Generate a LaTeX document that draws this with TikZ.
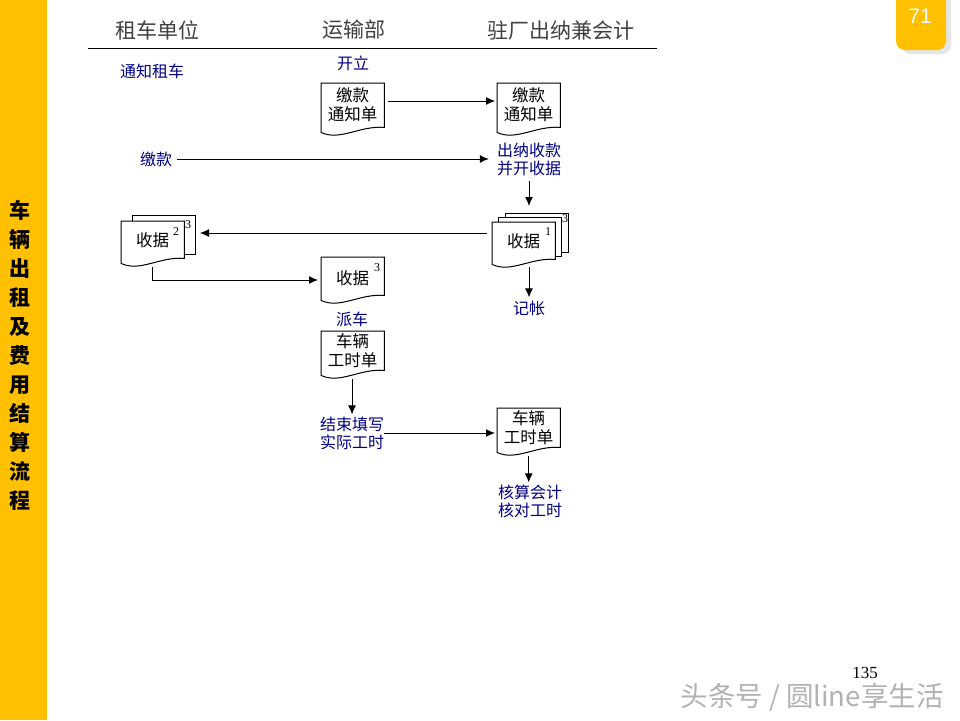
\documentclass[tikz,border=0pt]{standalone}
\usepackage{fontspec}
\setmainfont{Liberation Serif}
\newfontfamily\cjk{Noto Sans CJK SC}
\newfontfamily\numfont{Liberation Sans}
\usetikzlibrary{arrows.meta,positioning}
\definecolor{bandcolor}{HTML}{FFC000}
\definecolor{flowblue}{HTML}{000080}
\tikzset{
  flow/.style={draw, -{Latex[length=9pt,width=8pt]}, line width=1pt},
  head/.style={font=\cjk\fontsize{21}{24}\selectfont, text=black!75, inner sep=0pt},
  step label/.style={font=\cjk\fontsize{16}{18}\selectfont, text=flowblue, align=center, inner sep=0pt},
  sheet/.style={font=\fontsize{12}{13}\selectfont, inner sep=0pt},
  docbox/.style={minimum width=63pt, minimum height=#1, inner sep=0pt, anchor=north west},
  doctext/.style={font=\cjk\fontsize{16.5}{19}\selectfont, align=center, inner sep=0pt},
  docline/.style={draw=black, fill=white, line width=1pt},
  docback/.style={minimum width=63pt, minimum height=39pt, inner sep=0pt, anchor=north west, docline},
}
% name, corner, height, text drop, text
\newcommand{\docsheet}[5]{
  \node[docbox=#3] (#1) at (#2) {};
  \draw[docline] (#1.north west) -- (#1.north east) -- ([yshift=10pt]#1.south east)
    .. controls ([xshift=-25pt,yshift=12pt]#1.south east) and ([xshift=19pt,yshift=-4pt]#1.south west)
    .. ([yshift=5pt]#1.south west) -- cycle;
  \node[doctext] (#1t) at ([yshift=-#4]#1.north) {#5};
}
\begin{document}
\begin{tikzpicture}[x=1pt, y=-1pt]
  \useasboundingbox (0,0) rectangle (960,720);

  % Band and tab
  \fill[bandcolor] (0,0) rectangle (47,720);
  \node[font=\cjk\bfseries\fontsize{21}{29}\selectfont, align=center, inner sep=0pt, text=black] (title) at (20,355)
    {车\\辆\\出\\租\\及\\费\\用\\结\\算\\流\\程};
  \fill[black!10, rounded corners=9pt] (902,-12) rectangle (951,54);
  \fill[bandcolor, rounded corners=9pt] (896,-12) rectangle (946,50);
  \node[font=\numfont\fontsize{21}{22}\selectfont, text=white, inner sep=0pt] (tabno) at (920,16) {71};

  % Header
  \node[head] (h1) at (157,30) {租车单位};
  \node[head] (h2) at (354,30) {运输部};
  \node[head] (h3) at (561,30) {驻厂出纳兼会计};
  \coordinate (ruleL) at (88,48);
  \coordinate (ruleR) at (657,48);
  \draw[line width=1pt] (ruleL) -- (ruleR);

  % Labels
  \node[step label] (s1) at (152,71) {通知租车};
  \node[step label] (s2) at (353,63) {开立};
  \node[step label] (s3) at (156,159) {缴款};
  \node[step label] (s4) at (529,159) {出纳收款\\并开收据};
  \node[step label] (s5) at (529,308) {记帐};
  \node[step label] (s6) at (352,319) {派车};
  \node[step label] (s7) at (352,433) {结束填写\\实际工时};
  \node[step label] (s8) at (530,501) {核算会计\\核对工时};

  % Documents
  \docsheet{d1}{321,83}{54pt}{22pt}{缴款\\通知单}
  \docsheet{d2}{497,83}{54pt}{22pt}{缴款\\通知单}

  \node[docback] (b1) at (132,215) {};
  \docsheet{d3}{121,221}{47pt}{19pt}{收据}
  \node[sheet] (n3a) at (188,225) {3};
  \node[sheet] (n2a) at (176,232) {2};

  \docsheet{d4}{321,257}{48pt}{21pt}{收据}
  \node[sheet] (n3b) at (377,268) {3};

  \node[docback] (b2) at (505,213) {};
  \node[docback] (b3) at (498,217) {};
  \docsheet{d5}{492,222}{47pt}{19pt}{收据}
  \node[sheet] (n3c) at (565,219) {3};
  \node[sheet] (n1c) at (548,232) {1};

  \docsheet{d6}{321,331}{49pt}{20pt}{车辆\\工时单}
  \docsheet{d7}{497,408}{49pt}{20pt}{车辆\\工时单}

  % Flow
  \draw[flow, shorten <=4pt, shorten >=2pt] (d1.east |- 0,101) -- (d2.west |- 0,101);
  \draw[flow, shorten <=5pt, shorten >=8pt] (s3.east) -- (s4.west |- s3.east);
  \draw[flow] ([yshift=-5pt]s4.south) -- ([yshift=7pt]b2.north -| s4.south);
  \draw[flow, shorten <=5pt, shorten >=4pt] (d5.west |- 0,233) -- (b1.east |- 0,233);
  \draw[flow] (d3.south |- 0,267) |- ([xshift=-3pt]d4.west |- 0,280);
  \draw[flow] (s5.north |- 0,267) -- ([yshift=3pt]s5.north);
  \draw[flow] (s7.north |- 0,379) -- ([yshift=2pt]s7.north);
  \draw[flow, shorten >=2pt] (s7.east) -- (d7.west |- s7.east);
  \draw[flow] (d7.south |- 0,456) -- ([yshift=2pt]d7.south |- s8.north);

  % Page number and mark
  \node[font=\fontsize{17}{20}\selectfont, inner sep=0pt] (pageno) at (865,673) {135};
  \node[font=\cjk\fontsize{27.5}{30}\selectfont, text=black!30, inner sep=0pt] (mark) at (812,697) {头条号 / 圆line享生活};
\end{tikzpicture}
\end{document}
